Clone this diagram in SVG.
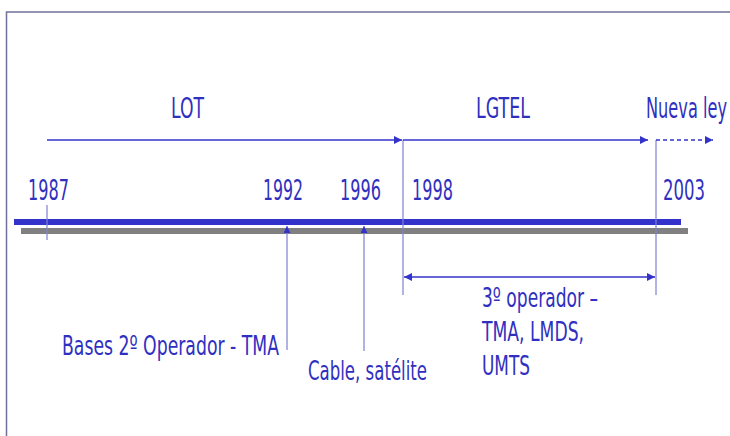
<svg xmlns="http://www.w3.org/2000/svg" width="730" height="436" viewBox="0 0 730 436">
<defs>
<style>
text{font-family:"DejaVu Sans","Liberation Sans",sans-serif;fill:#3030c0;font-size:28px}
.small{font-size:27px}
.thin{stroke:#8080d0;stroke-width:1.2;fill:none}
.arr{stroke:#3333cc;stroke-width:1.6;fill:none}
</style>
<marker id="ah" viewBox="0 0 10 10" refX="10" refY="5" markerWidth="8" markerHeight="8" markerUnits="userSpaceOnUse" orient="auto-start-reverse">
<path d="M0,0 L10,5 L0,10 Z" fill="#3333cc"/>
</marker>
<marker id="up" viewBox="0 0 10 10" refX="10" refY="5" markerWidth="8" markerHeight="7" markerUnits="userSpaceOnUse" orient="auto">
<path d="M0,0 L10,5 L0,10 Z" fill="#3333cc"/>
</marker>
</defs>
<rect x="0" y="0" width="730" height="436" fill="#ffffff"/>
<path d="M6.5,436 V12 H730" stroke="#70709a" stroke-width="1.5" fill="none"/>

<g id="timeline">
<rect x="21" y="228" width="667" height="6" fill="#808080"/>
<rect x="14" y="219" width="667" height="6" fill="#3333cc"/>
</g>

<g id="connectors">
<line class="thin" x1="47" y1="205" x2="47" y2="240"/>
<line class="thin" x1="403" y1="140" x2="403" y2="295"/>
<line class="thin" x1="656" y1="140" x2="656" y2="295"/>
<line class="thin" x1="287" y1="350" x2="287" y2="226" marker-end="url(#up)"/>
<line class="thin" x1="364" y1="351" x2="364" y2="226" marker-end="url(#up)"/>
<line class="arr" x1="47" y1="140" x2="402" y2="140" marker-end="url(#ah)"/>
<line class="arr" x1="403" y1="140" x2="648" y2="140" marker-end="url(#ah)"/>
<line class="arr" x1="656" y1="140" x2="713" y2="140" stroke-dasharray="4,3" stroke-width="1.2" marker-end="url(#ah)"/>
<line class="arr" x1="404" y1="277" x2="655" y2="277" marker-start="url(#ah)" marker-end="url(#ah)"/>
</g>

<g id="lot"><text x="171" y="118" textLength="33" lengthAdjust="spacingAndGlyphs">LOT</text></g>
<g id="lgtel"><text x="476" y="118" textLength="54" lengthAdjust="spacingAndGlyphs">LGTEL</text></g>
<g id="nueva-ley"><text x="646" y="118" textLength="81" lengthAdjust="spacingAndGlyphs">Nueva ley</text></g>

<g id="y1987"><text x="28" y="200" textLength="41" lengthAdjust="spacingAndGlyphs">1987</text></g>
<g id="y1992"><text x="263" y="200" textLength="40" lengthAdjust="spacingAndGlyphs">1992</text></g>
<g id="y1996"><text x="340" y="200" textLength="41" lengthAdjust="spacingAndGlyphs">1996</text></g>
<g id="y1998"><text x="412" y="200" textLength="41" lengthAdjust="spacingAndGlyphs">1998</text></g>
<g id="y2003"><text x="663" y="200" textLength="42" lengthAdjust="spacingAndGlyphs">2003</text></g>

<g id="bases"><text class="small" x="62" y="355" textLength="217" lengthAdjust="spacingAndGlyphs">Bases 2º Operador - TMA</text></g>
<g id="cable"><text class="small" x="308" y="380" textLength="119" lengthAdjust="spacingAndGlyphs">Cable, satélite</text></g>
<g id="tercer">
<text class="small" x="482" y="307" textLength="116" lengthAdjust="spacingAndGlyphs">3º operador –</text>
<text class="small" x="482" y="341" textLength="102" lengthAdjust="spacingAndGlyphs">TMA, LMDS,</text>
<text class="small" x="482" y="375" textLength="48" lengthAdjust="spacingAndGlyphs">UMTS</text>
</g>
</svg>
